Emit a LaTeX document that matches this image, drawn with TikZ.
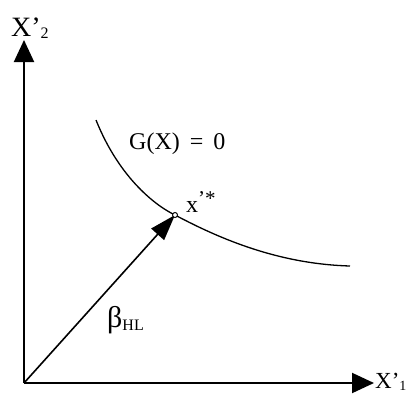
\documentclass[tikz,border=0pt]{standalone}
\usepackage{fontspec}
\setmainfont{Liberation Serif}
\usetikzlibrary{arrows.meta}
\begin{document}
\begin{tikzpicture}[x=1pt,y=-1pt,
  axis/.style={line width=2pt,-{Triangle[length=22pt,width=20pt]}},
  vec/.style={line width=1.6pt,-{Triangle[length=26pt,width=17pt]}},
  lbl/.style={anchor=base west,inner sep=0pt,font=\fontsize{24}{28}\selectfont}]
\useasboundingbox (0,0) rectangle (409,396);
\coordinate (O) at (24,383);
\coordinate (Y) at (24,40);
\coordinate (X) at (374,383);
\coordinate (P) at (175,215);
\draw[axis] (O) -- (Y);
\draw[axis] (O) -- (X);
\draw[line width=1.3pt] (96,120) .. controls (120,180) and (158,207) .. (P)
  .. controls (222,240) and (280,264) .. (350,266);
\draw[vec] (O) -- (P);
\node[draw,circle,line width=1pt,minimum size=5pt,inner sep=0pt,fill=white] (pt) at (P) {};
\node[lbl,font=\fontsize{28}{30}\selectfont] (ly) at (11,37) {X’\raisebox{-0.1ex}{\fontsize{16}{18}\selectfont 2}};
\node[lbl,font=\fontsize{23}{28}\selectfont] (lx) at (375,388) {X’\raisebox{-0.2ex}{\fontsize{14}{16}\selectfont 1}};
\node[lbl] (lg) at (129,149) {G(X)\, = \,0};
\node[lbl] (lp) at (186,212) {x\raisebox{0.6ex}{\fontsize{21}{22}\selectfont’*}};
\node[lbl,font=\fontsize{30}{32}\selectfont] (lb) at (107,327) {β\raisebox{-0.25ex}{\fontsize{16}{18}\selectfont HL}};
\end{tikzpicture}
\end{document}
